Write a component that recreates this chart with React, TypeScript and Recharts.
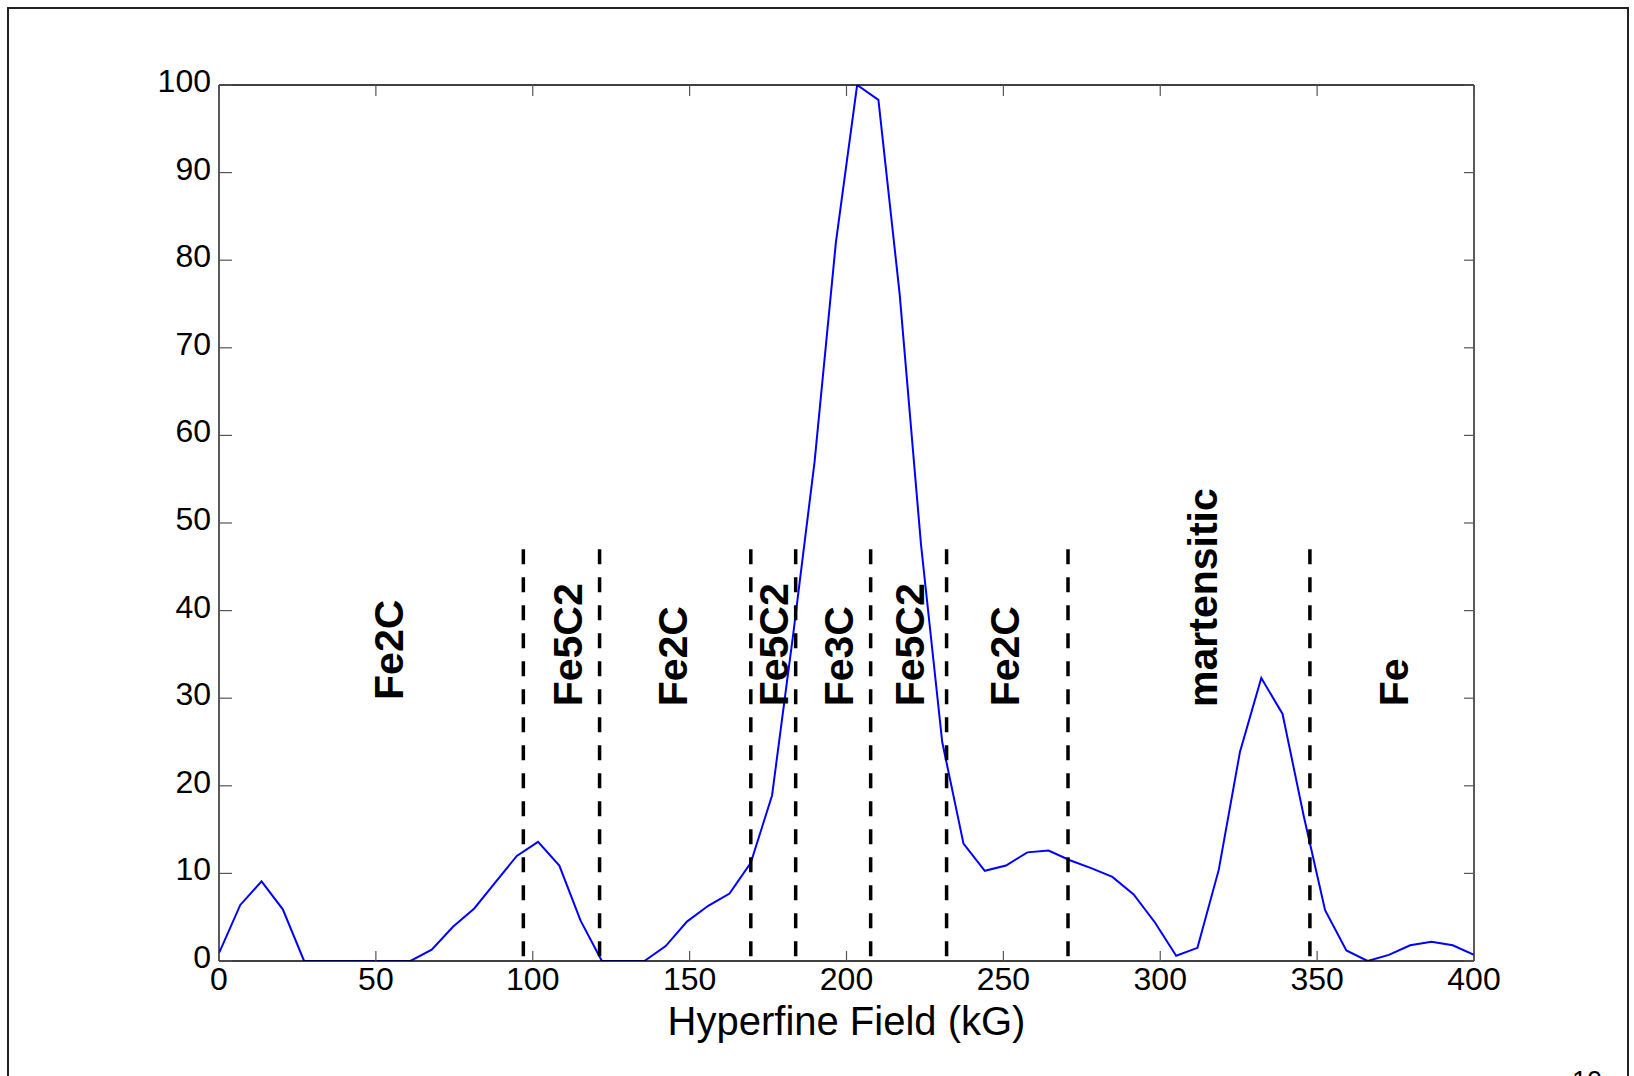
import React from 'react';
import { LineChart, Line, XAxis, YAxis, ReferenceLine, ReferenceDot } from 'recharts';

const fields = [
  0, 6.78, 13.56, 20.34, 27.12, 33.9, 40.68, 47.46, 54.24, 61.02,
  67.8, 74.58, 81.36, 88.14, 94.92, 101.69, 108.47, 115.25, 122.03, 128.81,
  135.59, 142.37, 149.15, 155.93, 162.71, 169.49, 176.27, 183.05, 189.83, 196.61,
  203.39, 210.17, 216.95, 223.73, 230.51, 237.29, 244.07, 250.85, 257.63, 264.41,
  271.19, 277.97, 284.75, 291.53, 298.31, 305.08, 311.86, 318.64, 325.42, 332.2,
  338.98, 345.76, 352.54, 359.32, 366.1, 372.88, 379.66, 386.44, 393.22, 400,
];

const intensity = [
  0.9, 6.4, 9.1, 5.9, 0, 0, 0, 0, 0, 0,
  1.3, 3.9, 6.0, 9.0, 12.0, 13.6, 10.9, 4.6, 0, 0,
  0, 1.7, 4.5, 6.3, 7.7, 11.2, 18.9, 37.4, 57, 82,
  100, 98.3, 76.1, 47.6, 25.0, 13.4, 10.3, 10.9, 12.4, 12.6,
  11.5, 10.6, 9.6, 7.6, 4.4, 0.6, 1.5, 10.4, 23.9, 32.3,
  28.2, 16.5, 5.8, 1.2, 0, 0.7, 1.8, 2.2, 1.8, 0.7,
];

const xTicks = [0, 50, 100, 150, 200, 250, 300, 350, 400];
const yTicks = [0, 10, 20, 30, 40, 50, 60, 70, 80, 90, 100];

const boundaries = [97, 121.3, 169.5, 183.8, 207.7, 231.9, 270.6, 347.7];
const boundaryTop = 47;

const phaseNames = ['Fe2C', 'Fe5C2', 'Fe2C', 'Fe5C2', 'Fe3C', 'Fe5C2', 'Fe2C', 'martensitic', 'Fe'];
const phaseX = [58.7, 115.6, 149.3, 181.5, 202.2, 224.7, 255.1, 318.0, 379.1];
const phaseY = [29.8, 29.07, 29.07, 29.07, 29.07, 29.07, 29.07, 29.0, 29.07];

const data = fields.map((x, i) => ({ x, v: intensity[i] }));

const FONT = '"Liberation Sans", Arial, Helvetica, sans-serif';
const TICK_COLOR = '#555';

const BottomTick = (props: any) => {
  const { x, y, payload } = props;
  return (
    <g>
      <line x1={x} y1={y} x2={x} y2={y - 10} stroke={TICK_COLOR} strokeWidth={1.2} />
      <text x={x} y={y + 29} textAnchor="middle" fontSize={32} fontFamily={FONT} fill="#000">
        {payload.value}
      </text>
    </g>
  );
};

const TopTick = (props: any) => {
  const { x, y } = props;
  return <line x1={x} y1={y} x2={x} y2={y + 11} stroke={TICK_COLOR} strokeWidth={1.2} />;
};

const LeftTick = (props: any) => {
  const { x, y, payload } = props;
  return (
    <g>
      <line x1={x} y1={y} x2={x + 13} y2={y} stroke={TICK_COLOR} strokeWidth={1.2} />
      <text x={x - 8} y={y + 7} textAnchor="end" fontSize={32} fontFamily={FONT} fill="#000">
        {payload.value}
      </text>
    </g>
  );
};

const RightTick = (props: any) => {
  const { x, y } = props;
  return <line x1={x} y1={y} x2={x - 10} y2={y} stroke={TICK_COLOR} strokeWidth={1.2} />;
};

const XLabel = (props: any) => {
  const vb = props.viewBox || { x: 219, y: 961, width: 1255, height: 80 };
  return (
    <text
      x={vb.x + vb.width / 2}
      y={vb.y + 74}
      textAnchor="middle"
      fontSize={40}
      fontFamily={FONT}
      fill="#000"
    >
      Hyperfine Field (kG)
    </text>
  );
};

const makePhaseShape = (name: string) => (p: any) => (
  <text
    x={p.cx}
    y={p.cy}
    transform={`rotate(-90 ${p.cx} ${p.cy})`}
    textAnchor="start"
    fontSize={41}
    fontWeight="bold"
    fontFamily={FONT}
    fill="#000"
  >
    {name}
  </text>
);

export default function App() {
  return (
    <div
      style={{
        position: 'absolute',
        left: 0,
        top: 0,
        width: 1634,
        height: 1076,
        overflow: 'hidden',
        background: '#fff',
      }}
    >
      <svg width={1634} height={1076} style={{ position: 'absolute', left: 0, top: 0 }}>
        <rect x={8} y={8} width={1620} height={1200} fill="none" stroke="#222" strokeWidth={2} />
        <text x={1572} y={1090} fontSize={27} fontFamily={FONT} fill="#000">10</text>
      </svg>
      <div style={{ position: 'absolute', left: 0, top: 0 }}>
        <LineChart
          width={1634}
          height={1076}
          data={data}
          margin={{ top: 80, right: 155, bottom: 35, left: 159 }}
        >
          <XAxis
            dataKey="x"
            type="number"
            domain={[0, 400]}
            ticks={xTicks}
            height={80}
            tickSize={0}
            tickMargin={0}
            tickLine={false}
            axisLine={{ stroke: '#000', strokeWidth: 1.3 }}
            tick={<BottomTick />}
            interval={0}
            allowDataOverflow
            label={{ content: <XLabel /> }}
          />
          <XAxis
            xAxisId="top"
            orientation="top"
            dataKey="x"
            type="number"
            domain={[0, 400]}
            ticks={xTicks}
            height={5}
            tickSize={0}
            tickMargin={0}
            tickLine={false}
            axisLine={{ stroke: '#000', strokeWidth: 1.3 }}
            tick={<TopTick />}
            interval={0}
            allowDataOverflow
          />
          <YAxis
            type="number"
            domain={[0, 100]}
            ticks={yTicks}
            width={60}
            tickSize={0}
            tickMargin={0}
            tickLine={false}
            axisLine={{ stroke: '#000', strokeWidth: 1.3 }}
            tick={<LeftTick />}
            interval={0}
            allowDataOverflow
          />
          <YAxis
            yAxisId="right"
            orientation="right"
            type="number"
            domain={[0, 100]}
            ticks={yTicks}
            width={5}
            tickSize={0}
            tickMargin={0}
            tickLine={false}
            axisLine={{ stroke: '#000', strokeWidth: 1.3 }}
            tick={<RightTick />}
            interval={0}
            allowDataOverflow
          />
          <Line
            xAxisId="top"
            yAxisId="right"
            dataKey="v"
            stroke="none"
            dot={false}
            activeDot={false}
            isAnimationActive={false}
          />
          {phaseNames.map((name, i) => (
            <ReferenceDot
              key={'p' + i}
              x={phaseX[i]}
              y={phaseY[i]}
              r={0}
              fill="none"
              stroke="none"
              shape={makePhaseShape(name)}
            />
          ))}
          <Line
            dataKey="v"
            stroke="#0000ff"
            strokeWidth={2}
            dot={false}
            activeDot={false}
            isAnimationActive={false}
          />
          {boundaries.map((b, i) => (
            <ReferenceLine
              key={'b' + i}
              segment={[
                { x: b, y: boundaryTop },
                { x: b, y: 0 },
              ]}
              stroke="#000"
              strokeWidth={3.5}
              strokeDasharray="15 13"
            />
          ))}
        </LineChart>
      </div>
    </div>
  );
}
